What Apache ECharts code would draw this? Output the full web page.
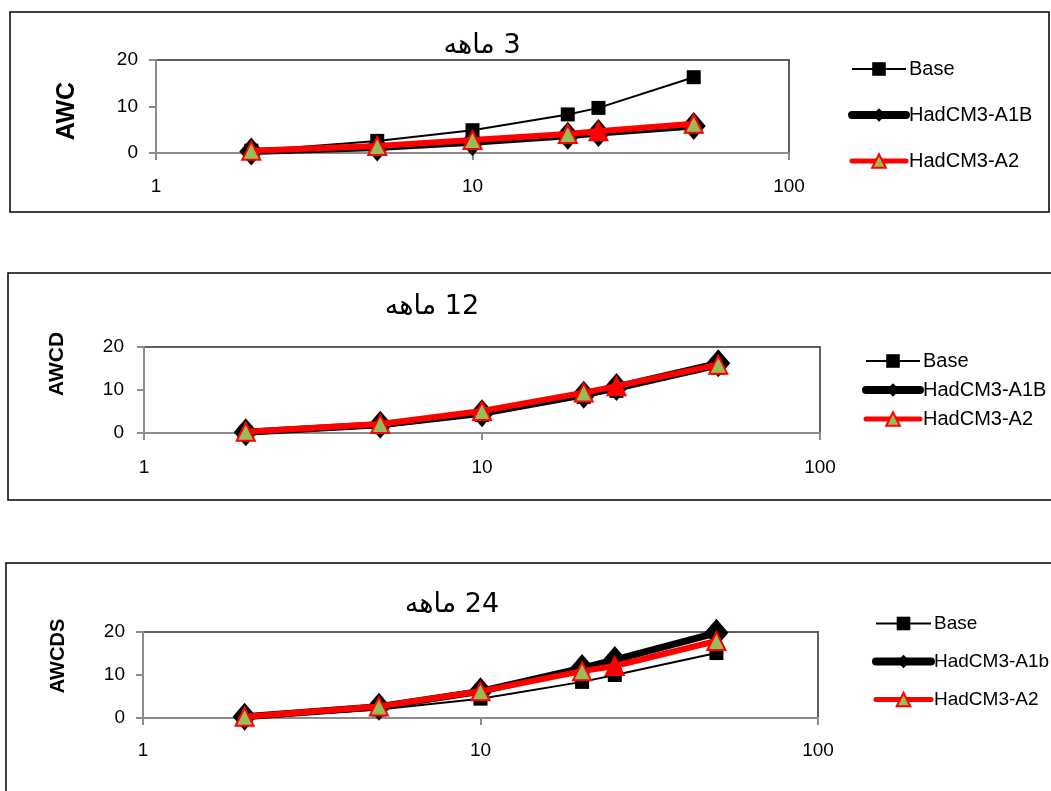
<!DOCTYPE html>
<html><head><meta charset="utf-8">
<script src="https://cdn.jsdelivr.net/npm/echarts@6/dist/echarts.min.js"></script>
<style>html,body{margin:0;padding:0;background:#fff}#c{width:1051px;height:791px}</style>
</head><body><div id="c"></div><script>
// Return periods (x, log scale)
const periods = [2, 5, 10, 20, 25, 50];
const xTicks = ['1', '10', '100'];
const yTicks = [0, 10, 20];

// Panel 1: 3 ماهه (AWC)
const base3 = [0.5, 2.6, 4.9, 8.3, 9.7, 16.3];
const a1b3  = [0.3, 1.2, 2.3, 3.7, 4.3, 5.8];
const a2_3  = [0.5, 1.5, 2.8, 4.1, 4.7, 6.3];

// Panel 2: 12 ماهه (AWCD)
const base12 = [0.1, 1.4, 4.2, 8.4, 9.8, 15.2];
const a1b12  = [0.2, 1.9, 4.6, 8.9, 10.7, 16.2];
const a2_12  = [0.3, 2.1, 5.1, 9.4, 10.9, 15.9];

// Panel 3: 24 ماهه (AWCDS)
const base24 = [0.0, 2.0, 4.5, 8.4, 10.0, 15.1];
const a1b24  = [0.3, 2.6, 6.2, 11.6, 13.5, 19.8];
const a2_24  = [0.3, 2.7, 6.2, 10.9, 12.1, 17.9];

const titles = ['3 ماهه', '12 ماهه', '24 ماهه'];
const yNames = ['AWC', 'AWCD', 'AWCDS'];
const seriesNames = [
  ['Base', 'HadCM3-A1B', 'HadCM3-A2'],
  ['Base', 'HadCM3-A1B', 'HadCM3-A2'],
  ['Base', 'HadCM3-A1b', 'HadCM3-A2']
];
const panelData = [[base3, a1b3, a2_3], [base12, a1b12, a2_12], [base24, a1b24, a2_24]];

// layout
const grids = [
  {left: 156, top: 60, width: 633, height: 93},
  {left: 144, top: 347, width: 676, height: 86},
  {left: 143, top: 632, width: 675, height: 86}
];
const frames = [
  {x: 10, y: 12, w: 1039, h: 200},
  {x: 8, y: 273, w: 1060, h: 227},
  {x: 6, y: 563, w: 1060, h: 260}
];
const titlePos = [[482, 46], [432, 307], [452, 605]];
const yNamePos = [[67, 111], [57, 364], [58, 656]];
const yNameSize = [25, 21, 20];
const legendPos = [
  {left: 848, top: 59, itemGap: 26, width: 54, font: 20},
  {left: 862, top: 351, itemGap: 9, width: 54, font: 20},
  {left: 872, top: 614, itemGap: 19, width: 55, font: 19}
];
const xLabelMargin = [24, 25, 23];
const yLabelMargin = [18, 20, 18];

const FONT = 'Liberation Sans';
const xAxis = [], yAxis = [], series = [], legend = [], graphic = [];

const lineStyles = [
  {color: '#000', width: 2},
  {color: '#000', width: 7, cap: 'round', join: 'round'},
  {color: '#ff0000', width: 6, cap: 'round', join: 'round'}
];
const legendLineStyles = [
  {color: '#000', width: 2},
  {color: '#000', width: 8, cap: 'round'},
  {color: '#ff0000', width: 5, cap: 'round'}
];
const itemStyles = [
  {color: '#000'},
  {color: '#000'},
  {color: '#9bbb59', borderColor: '#ff0000', borderWidth: 2}
];

grids.forEach((g, i) => {
  xAxis.push({
    type: 'log', logBase: 10, min: 1, max: 100, gridIndex: i,
    axisLine: {show: true, lineStyle: {color: '#8c8c8c', width: 2}},
    axisTick: {show: true, length: 7, lineStyle: {color: '#8c8c8c', width: 2}},
    axisLabel: {color: '#000', fontSize: 19, fontFamily: FONT, margin: xLabelMargin[i]},
    splitLine: {show: false}, minorTick: {show: false}
  });
  yAxis.push({
    type: 'value', min: 0, max: 20, interval: 10, gridIndex: i,
    axisLine: {show: true, lineStyle: {color: '#8c8c8c', width: 2}},
    axisTick: {show: true, length: 7, lineStyle: {color: '#8c8c8c', width: 2}},
    axisLabel: {color: '#000', fontSize: 19, fontFamily: FONT, margin: yLabelMargin[i]},
    splitLine: {show: false}
  });
  const [b, a1, a2] = panelData[i];
  const names = seriesNames[i];
  series.push({
    name: names[0], type: 'line', xAxisIndex: i, yAxisIndex: i,
    data: periods.map((p, k) => [p, b[k]]),
    symbol: 'rect', symbolSize: 14,
    lineStyle: lineStyles[0], itemStyle: itemStyles[0],
    animation: false, z: 2
  });
  series.push({
    name: names[1], type: 'line', xAxisIndex: i, yAxisIndex: i,
    data: periods.map((p, k) => [p, a1[k]]),
    symbol: 'diamond', symbolSize: [24, 28],
    lineStyle: lineStyles[1], itemStyle: itemStyles[1],
    animation: false, z: 3
  });
  series.push({
    name: names[2], type: 'line', xAxisIndex: i, yAxisIndex: i,
    data: periods.map((p, k) => p === 25
      ? {value: [p, a2[k]], itemStyle: {color: '#ff0000'}}
      : [p, a2[k]]),
    symbol: 'triangle', symbolSize: 18,
    lineStyle: lineStyles[2], itemStyle: itemStyles[2],
    animation: false, z: 4
  });
  const lp = legendPos[i];
  legend.push({
    orient: 'vertical', left: lp.left, top: lp.top, padding: 0,
    itemGap: lp.itemGap, itemWidth: lp.width, itemHeight: 17,
    selectedMode: false,
    data: names.map((n, k) => ({name: n, lineStyle: legendLineStyles[k], itemStyle: itemStyles[k]})),
    textStyle: {color: '#000', fontSize: lp.font, fontFamily: FONT, padding: [0, 0, 0, -2]}
  });
  graphic.push({
    type: 'rect', silent: true, z: -1,
    shape: {x: frames[i].x, y: frames[i].y, width: frames[i].w, height: frames[i].h},
    style: {fill: 'none', stroke: '#000', lineWidth: 1.5}
  });
  graphic.push({
    type: 'text', silent: true,
    x: titlePos[i][0], y: titlePos[i][1],
    style: {
      text: '\u202B' + titles[i] + '\u202C',
      font: '27px "DejaVu Sans"', fill: '#000',
      align: 'center', verticalAlign: 'middle'
    }
  });
  graphic.push({
    type: 'text', silent: true,
    x: yNamePos[i][0], y: yNamePos[i][1], rotation: Math.PI / 2,
    style: {
      text: yNames[i],
      font: 'bold ' + yNameSize[i] + 'px "Liberation Sans"', fill: '#000',
      align: 'center', verticalAlign: 'middle'
    }
  });
});

const chart = echarts.init(document.getElementById('c'), null, {renderer: 'canvas'});
chart.setOption({
  backgroundColor: '#fff',
  animation: false,
  grid: grids.map(g => Object.assign({show: true, borderColor: '#5f5f5f', borderWidth: 2, backgroundColor: 'transparent', containLabel: false}, g)),
  xAxis, yAxis, series, legend, graphic
});
</script></body></html>
